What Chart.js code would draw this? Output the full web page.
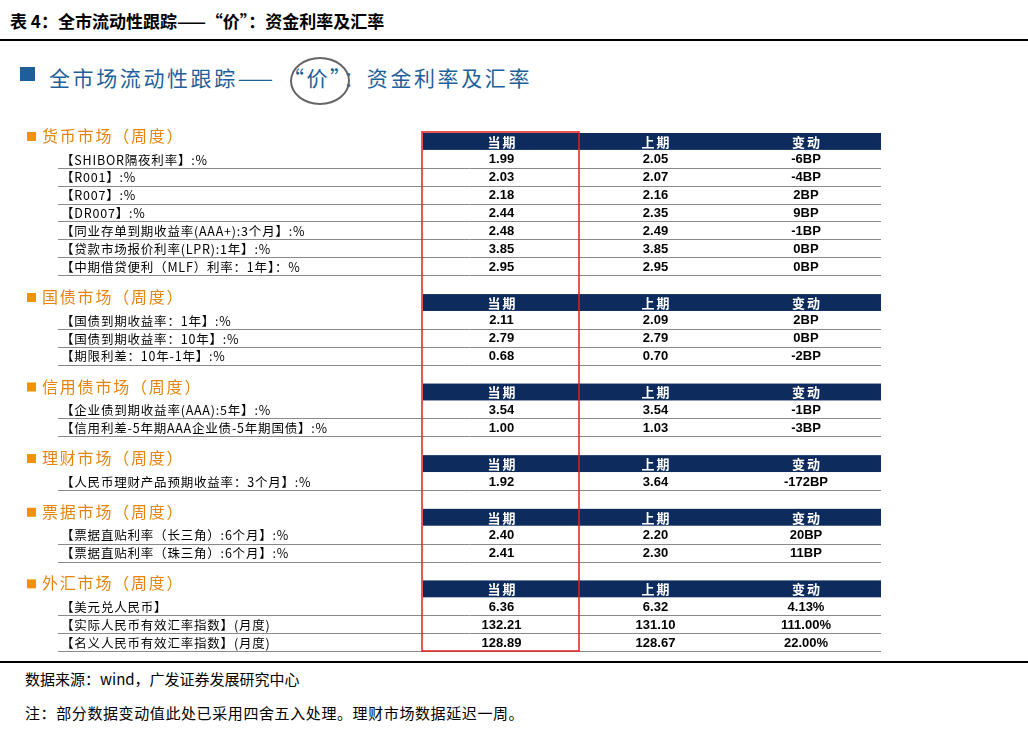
<!DOCTYPE html>
<html><head><meta charset="utf-8">
<script src="https://cdn.jsdelivr.net/npm/chart.js@4"></script>
<style>
body{margin:0;background:#fff;width:1028px;height:736px;overflow:hidden;position:relative;font-family:"Noto Sans CJK SC",sans-serif}
.t{position:absolute;white-space:nowrap}
</style></head><body>
<div class="t" style="left:10px;top:8px;font-size:17px;font-weight:bold;color:#000">表 4：全市流动性跟踪——“价”：资金利率及汇率</div>
<div style="position:absolute;left:0;top:39px;width:1028px;height:2px;background:#000"></div>
<div style="position:absolute;left:20px;top:67px;width:15px;height:14px;background:#1F5F99"></div>
<div class="t" style="left:49px;top:62px;font-size:21px;color:#1F5F99;letter-spacing:2.6px">全市场流动性跟踪—— “价”：资金利率及汇率</div>
<div style="position:absolute;left:290px;top:57px;width:56px;height:44px;border:2px solid #666;border-radius:50%"></div>
<div style="position:absolute;left:0;top:661px;width:1028px;height:2px;background:#000"></div>
<div class="t" style="left:25px;top:668px;font-size:15px;color:#000">数据来源：wind，广发证券发展研究中心</div>
<div class="t" style="left:25px;top:702px;font-size:15px;color:#000;letter-spacing:0.6px">注：部分数据变动值此处已采用四舍五入处理。理财市场数据延迟一周。</div>
<canvas id="c" width="1028" height="736" style="position:absolute;left:0;top:0"></canvas>
<script>
const sectionTitles=["货币市场（周度）","国债市场（周度）","信用债市场（周度）","理财市场（周度）","票据市场（周度）","外汇市场（周度）"];
const columnHeaders=["当期","上期","变动"];
const itemSection=[0,0,0,0,0,0,0,1,1,1,2,2,3,4,4,5,5,5];
const itemLabels=["【SHIBOR隔夜利率】:%","【R001】:%","【R007】:%","【DR007】:%","【同业存单到期收益率(AAA+):3个月】:%","【贷款市场报价利率(LPR):1年】:%","【中期借贷便利（MLF）利率：1年】：%",
"【国债到期收益率：1年】:%","【国债到期收益率：10年】:%","【期限利差：10年-1年】:%",
"【企业债到期收益率(AAA):5年】:%","【信用利差-5年期AAA企业债-5年期国债】:%",
"【人民币理财产品预期收益率：3个月】:%",
"【票据直贴利率（长三角）:6个月】:%","【票据直贴利率（珠三角）:6个月】:%",
"【美元兑人民币】","【实际人民币有效汇率指数】(月度)","【名义人民币有效汇率指数】(月度)"];
const currentVals=["1.99","2.03","2.18","2.44","2.48","3.85","2.95","2.11","2.79","0.68","3.54","1.00","1.92","2.40","2.41","6.36","132.21","128.89"];
const previousVals=["2.05","2.07","2.16","2.35","2.49","3.85","2.95","2.09","2.79","0.70","3.54","1.03","3.64","2.20","2.30","6.32","131.10","128.67"];
const changes=["-6BP","-4BP","2BP","9BP","-1BP","0BP","0BP","2BP","0BP","-2BP","-1BP","-3BP","-172BP","20BP","11BP","4.13%","111.00%","22.00%"];

const rows=[];
sectionTitles.forEach((t,s)=>{
  if(s>0) rows.push({type:'gap'});
  rows.push({type:'head',s});
  itemSection.forEach((sec,i)=>{ if(sec===s) rows.push({type:'item',i}); });
});
const rowKeys=rows.map((r,k)=>'r'+k);
const colEdges=[0,398,555,706,856];

const tablePlugin={id:'table',afterDraw(chart){
  const ctx=chart.ctx, y=chart.scales.y, x=chart.scales.x;
  const h=y.getPixelForValue(1)-y.getPixelForValue(0);
  const X=v=>x.getPixelForValue(v);
  ctx.save();
  rows.forEach((r,k)=>{
    const cy=y.getPixelForValue(k), top=cy-h/2, bot=cy+h/2;
    ctx.letterSpacing='0px';
    if(r.type==='head'){
      ctx.fillStyle='#0E2B5E';
      ctx.fillRect(X(colEdges[1]),top+1,X(colEdges[4])-X(colEdges[1]),h-1);
      ctx.fillStyle='#fff';ctx.font='bold 13px "Noto Sans CJK SC"';ctx.textAlign='center';ctx.textBaseline='middle';
      ctx.letterSpacing='2px';
      columnHeaders.forEach((c,j)=>ctx.fillText(c,(X(colEdges[j+1])+X(colEdges[j+2]))/2+1,cy+1));
      ctx.fillStyle='#F39200';ctx.fillRect(X(2),cy-9,9,9);
      ctx.fillStyle='#E5850F';ctx.font='16px "Noto Sans CJK SC"';ctx.textAlign='left';
      ctx.letterSpacing='1.8px';
      ctx.fillText(sectionTitles[r.s],X(17),cy-5);
    } else if(r.type==='item'){
      const i=r.i;
      ctx.fillStyle='#000';ctx.font='12.5px "Noto Sans CJK SC"';ctx.textAlign='left';ctx.textBaseline='middle';
      ctx.letterSpacing='0.8px';
      ctx.fillText(itemLabels[i],X(36),cy+1);
      ctx.letterSpacing='0px';
      ctx.font='bold 13px "Liberation Sans"';ctx.textAlign='center';
      [currentVals[i],previousVals[i],changes[i]].forEach((v,j)=>ctx.fillText(v,(X(colEdges[j+1])+X(colEdges[j+2]))/2,cy+1));
      ctx.strokeStyle='#8a8a8a';ctx.lineWidth=1;ctx.beginPath();
      ctx.moveTo(X(33),Math.round(bot)+0.5);ctx.lineTo(X(colEdges[4]),Math.round(bot)+0.5);ctx.stroke();
    }
  });
  ctx.strokeStyle='#E0201C';ctx.lineWidth=1.5;
  const t0=y.getPixelForValue(0)-h/2, t1=y.getPixelForValue(rows.length-1)+h/2;
  ctx.strokeRect(X(colEdges[1])-1,t0,X(colEdges[2])-X(colEdges[1]),t1-t0);
  ctx.restore();
}};

new Chart(document.getElementById('c'),{
  type:'bar',
  data:{labels:rowKeys,datasets:[{data:[],indexAxis:'y'}]},
  options:{indexAxis:'y',responsive:false,animation:false,devicePixelRatio:1,
    layout:{padding:{left:25,right:147,top:132,bottom:85}},
    plugins:{legend:{display:false},tooltip:{enabled:false}},
    scales:{x:{type:'linear',min:0,max:856,display:false},y:{type:'category',display:false}}},
  plugins:[tablePlugin]
});
</script></body></html>
